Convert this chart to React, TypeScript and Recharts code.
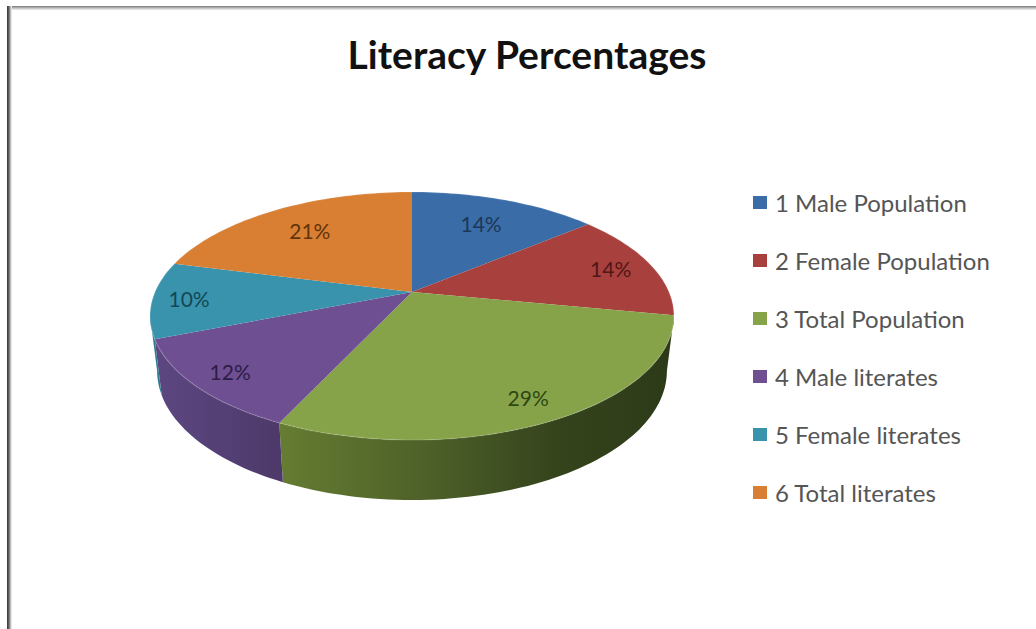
import { Legend, Pie, PieChart } from 'recharts';

const categories = [
  '1 Male Population',
  '2 Female Population',
  '3 Total Population',
  '4 Male literates',
  '5 Female literates',
  '6 Total literates',
];
const percentages = [14, 14, 29, 12, 10, 21];
const sliceColors = ['#3a6da8', '#a8403d', '#86a34a', '#6e5092', '#3a93ad', '#d87f33'];
const labelColors = ['#1c3757', '#4f1818', '#2e4711', '#2d1c47', '#124855', '#633309'];
// how far along its radius each percentage sits
const labelReach = [0.71, 0.83, 0.85, 0.86, 0.86, 0.72];

const data = categories.map((name, i) => ({ name, value: percentages[i], fill: sliceColors[i] }));

const WIDTH = 1036;
const HEIGHT = 629;
const TILT = 0.4644;
const PERSPECTIVE = 0.1935;
const RADIUS = 257;
const FRONT_EDGE = 11.2; // degrees below horizontal where the rim turns out of sight

// tilted disc: polar position to screen position
const project = (cx: number, cy: number, r: number, deg: number) => {
  const a = (deg * Math.PI) / 180;
  const u = (r / RADIUS) * Math.cos(a);
  const v = (r / RADIUS) * -Math.sin(a);
  const d = 1 - PERSPECTIVE * v;
  return { x: cx + (RADIUS * u) / d, y: cy + (RADIUS * TILT * v) / d };
};

// the underside of the pie, a little narrower and pushed down
const lower = (cx: number, p: { x: number; y: number }) => ({
  x: cx + (p.x - cx) * 0.973,
  y: 371 + (p.y - 316) * 1.04,
});

const arcPoints = (cx: number, cy: number, r: number, from: number, to: number) => {
  const steps = Math.max(2, Math.ceil(Math.abs(to - from) / 1.5));
  const pts = [];
  for (let i = 0; i <= steps; i++) pts.push(project(cx, cy, r, from + ((to - from) * i) / steps));
  return pts;
};

const toPath = (pts: { x: number; y: number }[]) =>
  pts.map((p, i) => `${i ? 'L' : 'M'}${p.x.toFixed(1)} ${p.y.toFixed(1)}`).join(' ');

function Slice(props: any) {
  const { cx, cy, outerRadius, startAngle, endAngle, fill, index } = props;
  const rim = arcPoints(cx, cy, outerRadius, startAngle, endAngle);
  // visible wall runs from the right extreme round the front to the left extreme
  const wallFrom = Math.min(startAngle, -FRONT_EDGE);
  const wallTo = Math.max(endAngle, -180 + FRONT_EDGE);
  let wall = null;
  if (wallFrom > wallTo) {
    const top = arcPoints(cx, cy, outerRadius, wallFrom, wallTo);
    const bottom = top.map((p) => lower(cx, p)).reverse();
    wall = <path d={`${toPath([...top, ...bottom])} Z`} fill={`url(#wall-${index})`} />;
  }
  return (
    <g>
      {wall}
      <path d={`M${cx} ${cy} ${toPath(rim).replace('M', 'L')} Z`} fill={fill} />
      <path d={toPath(rim)} fill="none" stroke="#ffffff" strokeOpacity={0.12} strokeWidth={1.5} />
    </g>
  );
}

function SliceLabel(props: any) {
  const { cx, cy, midAngle, index, value } = props;
  const p = project(cx, cy, RADIUS * labelReach[index], midAngle);
  return (
    <text
      x={p.x}
      y={p.y}
      fill={labelColors[index]}
      fontFamily="Lato"
      fontSize={21}
      textAnchor="middle"
      dominantBaseline="central"
    >
      {value}%
    </text>
  );
}

function LegendList({ payload }: any) {
  return (
    <div>
      {(payload || []).map((item: any) => (
        <div key={item.value} style={{ height: 58, display: 'flex', alignItems: 'center' }}>
          <span style={{ width: 14, height: 13, marginRight: 8, background: item.color }} />
          <span style={{ fontFamily: 'Lato', fontSize: 24, color: '#555555', whiteSpace: 'nowrap' }}>{item.value}</span>
        </div>
      ))}
    </div>
  );
}

export default function App() {
  return (
    <div style={{ position: 'fixed', left: 0, top: 0, width: WIDTH, height: HEIGHT, background: '#fff', overflow: 'hidden' }}>
      <div style={{ position: 'absolute', left: 7, top: 6, right: 0, height: 4, background: 'linear-gradient(#777, #bbb 50%, #f2f2f2)' }} />
      <div style={{ position: 'absolute', left: 7, top: 6, bottom: 0, width: 5, background: 'linear-gradient(90deg, #333, #666 40%, #ccc 75%, #f6f6f6)' }} />
      <PieChart
        width={WIDTH}
        height={HEIGHT}
        margin={{ top: 0, right: 0, bottom: 0, left: 0 }}
        style={{ position: 'absolute', left: 0, top: 0 }}
      >
        <defs>
          <linearGradient id="wall-2" gradientUnits="userSpaceOnUse" x1={276} y1={0} x2={672} y2={0}>
            <stop offset="0%" stopColor="#667d32" />
            <stop offset="40%" stopColor="#4c5f28" />
            <stop offset="70%" stopColor="#36441c" />
            <stop offset="100%" stopColor="#2c3a18" />
          </linearGradient>
          <linearGradient id="wall-3" gradientUnits="userSpaceOnUse" x1={152} y1={0} x2={276} y2={0}>
            <stop offset="0%" stopColor="#5d4782" />
            <stop offset="100%" stopColor="#4d3a6a" />
          </linearGradient>
          <linearGradient id="wall-4" gradientUnits="userSpaceOnUse" x1={150} y1={0} x2={160} y2={0}>
            <stop offset="0%" stopColor="#2f7a90" />
            <stop offset="100%" stopColor="#2f7a90" />
          </linearGradient>
        </defs>
        <text x={527} y={54} textAnchor="middle" dominantBaseline="central" fontFamily="Lato" fontWeight={700} fontSize={39} fill="#111111">
          Literacy Percentages
        </text>
        <Pie
          data={data}
          dataKey="value"
          nameKey="name"
          cx={412}
          cy={292}
          outerRadius={RADIUS}
          startAngle={90}
          endAngle={-270}
          paddingAngle={0}
          stroke="none"
          shape={Slice}
          label={SliceLabel}
          labelLine={false}
          isAnimationActive={false}
        />
        <Legend
          content={LegendList}
          wrapperStyle={{ position: 'absolute', left: 753, top: 173, width: 280, bottom: 'auto', right: 'auto' }}
        />
      </PieChart>
    </div>
  );
}
